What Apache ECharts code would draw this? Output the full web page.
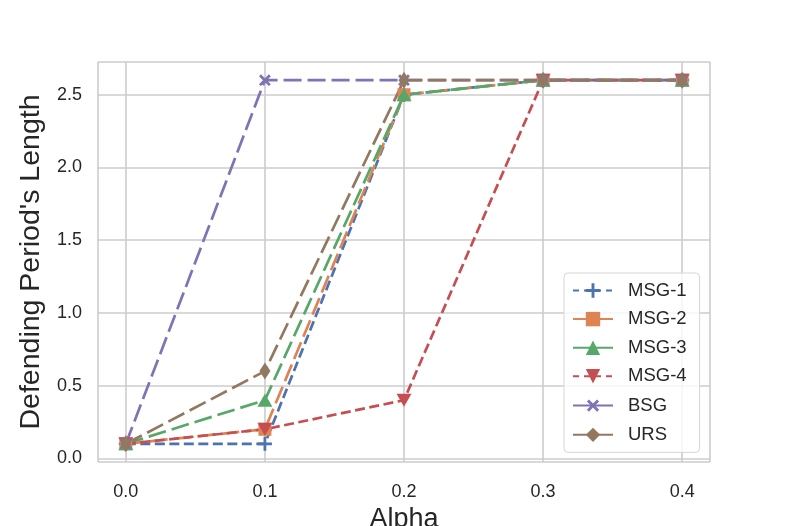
<!DOCTYPE html>
<html>
<head>
<meta charset="utf-8">
<style>
  html, body { margin: 0; padding: 0; background: #fff; }
  #main { width: 789px; height: 526px; }
</style>
<script src="https://cdn.jsdelivr.net/npm/echarts@6/dist/echarts.min.js"></script>
</head>
<body>
<div id="main"></div>
<script>
    // alpha values on the x axis
    var alpha = [0.0, 0.1, 0.2, 0.3, 0.4];

    // defending period's length for every method
    var msg1 = [0.1, 0.1, 2.5, 2.6, 2.6];
    var msg2 = [0.1, 0.2, 2.5, 2.6, 2.6];
    var msg3 = [0.1, 0.4, 2.5, 2.6, 2.6];
    var msg4 = [0.1, 0.2, 0.4, 2.6, 2.6];
    var bsg  = [0.1, 2.6, 2.6, 2.6, 2.6];
    var urs  = [0.1, 0.6, 2.6, 2.6, 2.6];

    var names = ['MSG-1', 'MSG-2', 'MSG-3', 'MSG-4', 'BSG', 'URS'];
    // short dashes for these two, long dashes (look solid in the legend) for the rest
    var shortNames = ['MSG-1', 'MSG-4'];

    var plusPath = 'path://M4,0 L6,0 L6,4 L10,4 L10,6 L6,6 L6,10 L4,10 L4,6 L0,6 L0,4 L4,4 Z';
    var shortDash = [10, 4.5];
    var longDash = [18, 6];
    var font = 'Liberation Sans, Arial, sans-serif';

    function pairs(ys) {
        var out = [];
        for (var i = 0; i < alpha.length; i++) out.push([alpha[i], ys[i]]);
        return out;
    }

    function line(name, ys, color, dash, symbol, size, rotate) {
        return {
            name: name,
            type: 'line',
            data: pairs(ys),
            symbol: symbol,
            symbolSize: size,
            symbolRotate: rotate || 0,
            showAllSymbol: true,
            clip: false,
            itemStyle: { color: color, borderWidth: 0 },
            lineStyle: { color: color, width: 2.7, type: dash }
        };
    }

    function tickFmt(step) {
        return function (v) {
            var k = v / step;
            if (Math.abs(k - Math.round(k)) < 1e-6) return v.toFixed(1);
            return '';
        };
    }

    var legendData = names.map(function (n) {
        if (shortNames.indexOf(n) >= 0) return { name: n, lineStyle: { type: [6, 5] } };
        return { name: n, lineStyle: { type: 'solid' } };
    });

    var chart = echarts.init(document.getElementById('main'));
    chart.setOption({
        animation: false,
        backgroundColor: '#ffffff',
        textStyle: { fontFamily: font },
        grid: { left: 98, right: 79, top: 62, bottom: 64, containLabel: false, outerBoundsMode: 'none' },
        xAxis: {
            type: 'value',
            min: -0.02,
            max: 0.42,
            name: 'Alpha',
            nameLocation: 'middle',
            nameGap: 37,
            nameTextStyle: { fontSize: 27, color: '#262626', fontFamily: font },
            axisLine: { show: false },
            axisTick: { show: false },
            axisLabel: {
                margin: 21,
                fontSize: 18,
                color: '#262626',
                fontFamily: font,
                showMinLabel: false,
                showMaxLabel: false,
                formatter: tickFmt(0.1)
            },
            splitLine: { show: true, lineStyle: { color: '#cccccc', width: 1.6 } }
        },
        yAxis: {
            type: 'value',
            min: -0.025,
            max: 2.725,
            name: "Defending Period's Length",
            nameLocation: 'middle',
            nameGap: 51,
            nameTextStyle: { fontSize: 28.5, color: '#262626', fontFamily: font },
            axisLine: { show: false },
            axisTick: { show: false },
            axisLabel: {
                margin: 16,
                fontSize: 18,
                color: '#262626',
                fontFamily: font,
                showMinLabel: false,
                showMaxLabel: false,
                formatter: tickFmt(0.5)
            },
            splitLine: { show: true, lineStyle: { color: '#cccccc', width: 1.6 } }
        },
        legend: {
            data: legendData,
            orient: 'vertical',
            left: 564,
            top: 273,
            padding: [8, 13, 8, 8],
            itemWidth: 40,
            itemHeight: 18,
            itemGap: 9.6,
            backgroundColor: 'rgba(255,255,255,0.8)',
            borderColor: '#d6d6d6',
            borderWidth: 1,
            borderRadius: 4,
            textStyle: { fontSize: 18.5, color: '#262626', fontFamily: font, padding: [0, 0, 0, 10] }
        },
        series: [
            line('MSG-1', msg1, '#4C72B0', shortDash, plusPath, 14, 0),
            line('MSG-2', msg2, '#DD8452', longDash, 'rect', 13, 0),
            line('MSG-3', msg3, '#55A868', longDash, 'triangle', [15, 13], 0),
            line('MSG-4', msg4, '#C44E52', shortDash, 'triangle', [15, 13], 180),
            line('BSG', bsg, '#8172B3', longDash, plusPath, 14, 45),
            line('URS', urs, '#937860', longDash, 'diamond', [11, 17], 0)
        ]
    });
</script>
</body>
</html>
